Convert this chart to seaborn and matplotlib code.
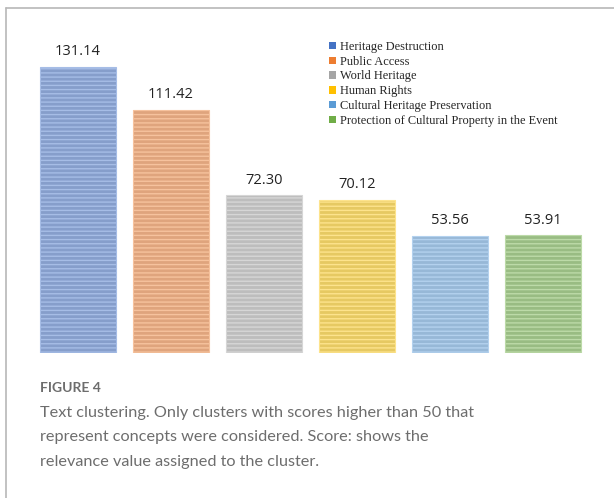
import matplotlib
matplotlib.use("Agg")
import matplotlib.pyplot as plt
from matplotlib.lines import Line2D
import seaborn as sns
import pandas as pd

# cluster data
clusters = ["Heritage Destruction", "Public Access", "World Heritage", "Human Rights",
            "Cultural Heritage Preservation", "Protection of Cultural Property in the Event"]
scores = [131.14, 111.42, 72.30, 70.12, 53.56, 53.91]
labels = ["131.14", "111.42", "72.30", "70.12", "53.56", "53.91"]

face_colors = ["#7b9bd6", "#f0a16c", "#bdbdbd", "#fcd54c", "#8cb9e2", "#97c57a"]
stripe_colors = ["#a6bde6", "#f6c29d", "#d6d6d6", "#fde38c", "#b3d1ee", "#bcdaa8"]
legend_colors = ["#4472c4", "#ed7d31", "#a5a5a5", "#ffc000", "#5b9bd5", "#70ad47"]

df = pd.DataFrame({"Cluster": clusters, "Score": scores})

sns.set_style("white")
plt.rcParams["hatch.linewidth"] = 1.0

fig = plt.figure(figsize=(6.14, 4.98), dpi=100)
ax = fig.add_axes([31.5 / 614, 1 - 353 / 498, 558 / 614, 323 / 498])

sns.barplot(data=df, x="Cluster", y="Score", hue="Cluster", palette=face_colors,
            width=0.82, legend=False, ax=ax)

for bar, ec in zip(ax.patches, stripe_colors):
    bar.set_edgecolor(ec)
    bar.set_linewidth(0.8)
    bar.set_hatch("----")

for i, (v, lab) in enumerate(zip(scores, labels)):
    ax.text(i, v + 3.5, lab, ha="center", va="bottom", fontsize=10.5,
            family="Open Sans", color="#222222")

ax.set_xlim(-0.5, 5.5)
ax.set_ylim(0, 148)
ax.set_xticks([])
ax.set_yticks([])
ax.set_xlabel("")
ax.set_ylabel("")
sns.despine(ax=ax, left=True, bottom=True)

# legend
handles = [plt.Rectangle((0, 0), 1, 1, facecolor=c, edgecolor="none") for c in legend_colors]
fig.legend(handles, clusters, loc="upper left", bbox_to_anchor=(329 / 614, 1 - 41 / 498),
           frameon=False, prop={"family": "Liberation Serif", "size": 8.9},
           handlelength=0.55, handleheight=0.55, handletextpad=0.3, labelspacing=0.22,
           borderpad=0, borderaxespad=0)

# caption
fig.text(40 / 614, 1 - 388 / 498, "FIGURE 4", fontsize=10, family="Lato", weight="bold",
         color="#6d6d6d", va="center")
caption = ("Text clustering. Only clusters with scores higher than 50 that\n"
           "represent concepts were considered. Score: shows the\n"
           "relevance value assigned to the cluster.")
fig.text(40 / 614, 1 - 406 / 498, caption, fontsize=11.7, family="Lato", color="#6d6d6d",
         va="top", linespacing=1.95)

# frame lines
fig.add_artist(Line2D([6 / 614, 6 / 614], [0, 1 - 8 / 498], color="#b8b8b8", lw=1.2))
fig.add_artist(Line2D([6 / 614, 1], [1 - 8 / 498, 1 - 8 / 498], color="#b8b8b8", lw=1.2))

fig.savefig("out.png", dpi=100)
